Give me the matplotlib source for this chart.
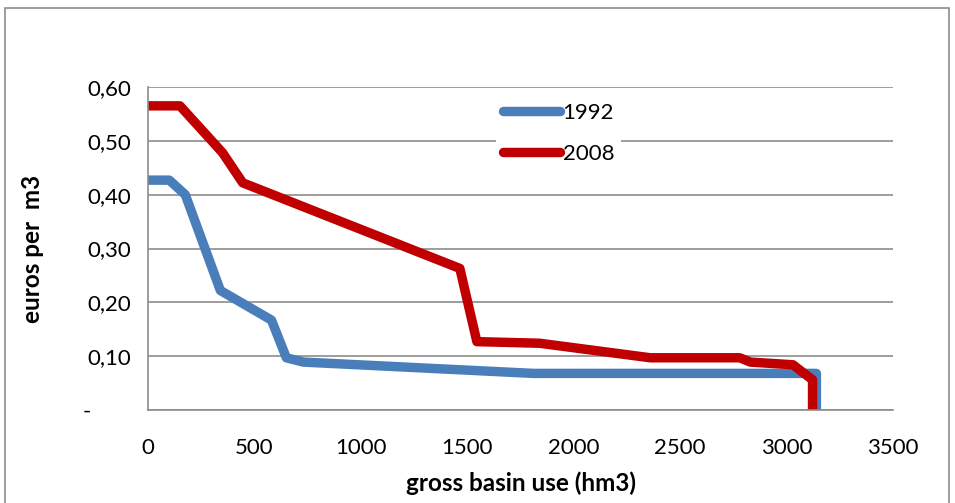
import matplotlib.pyplot as plt
from matplotlib.patches import Rectangle

plt.rcParams['font.family'] = ['Lato', 'DejaVu Sans']

# datos
use_1992 = [0, 100, 175, 340, 580, 650, 730, 1810, 3140, 3140]
price_1992 = [0.427, 0.427, 0.40, 0.222, 0.167, 0.097, 0.089, 0.068, 0.068, 0.0]

use_2008 = [0, 150, 350, 445, 1465, 1545, 1840, 2360, 2780, 2830, 3030, 3122, 3122]
price_2008 = [0.565, 0.565, 0.478, 0.422, 0.263, 0.127, 0.124, 0.097, 0.097, 0.089, 0.084, 0.056, 0.0]

y_ticks = [0, 0.1, 0.2, 0.3, 0.4, 0.5, 0.6]
y_labels = ['-       ', '0,10', '0,20', '0,30', '0,40', '0,50', '0,60']
x_ticks = [0, 500, 1000, 1500, 2000, 2500, 3000, 3500]

fig = plt.figure(figsize=(9.55, 5.03), dpi=100)
ax = fig.add_axes([148 / 955, 1 - 410 / 503, (893 - 148) / 955, (410 - 87) / 503])

ax.plot(use_1992, price_1992, color='#4A7EBB', lw=6.8, label='1992',
        solid_joinstyle='round', solid_capstyle='round')
ax.plot(use_2008, price_2008, color='#C00000', lw=6.8, label='2008',
        solid_joinstyle='round', solid_capstyle='round')

ax.set_xlim(0, 3500)
ax.set_ylim(0, 0.6)
ax.set_xticks(x_ticks)
ax.set_xticklabels([str(v) for v in x_ticks])
ax.set_yticks(y_ticks)
ax.set_yticklabels(y_labels)
ax.tick_params(length=0, labelsize=16, pad=12)
ax.tick_params(axis='x', pad=20)
ax.grid(axis='y', color='#8c8c8c', lw=1.2)
ax.set_axisbelow(True)
for s in ['top', 'right']:
    ax.spines[s].set_visible(False)
for s in ['left', 'bottom']:
    ax.spines[s].set_color('#8c8c8c')
    ax.spines[s].set_linewidth(1.2)

ax.set_xlabel('gross basin use (hm3)', fontsize=17.5, fontweight='bold', labelpad=10)
ax.set_ylabel('euros per  m3', fontsize=17.5, fontweight='bold')
ax.yaxis.set_label_coords(-0.14, 0.5)

leg = ax.legend(loc='upper left', bbox_to_anchor=(0.452, 1.005), frameon=True,
                fontsize=16, handlelength=2.6, handletextpad=0.1,
                labelspacing=0.95, borderpad=0.3)
leg.get_frame().set_edgecolor('none')
leg.get_frame().set_facecolor('white')
leg.get_frame().set_alpha(1)

# marco del grafico
fig.patches.append(Rectangle((5 / 955, -0.05), 944 / 955, 1 - 8 / 503 + 0.05,
                             transform=fig.transFigure, fill=False,
                             edgecolor='#8c8c8c', lw=1.2))

fig.savefig('out.png', dpi=100)
